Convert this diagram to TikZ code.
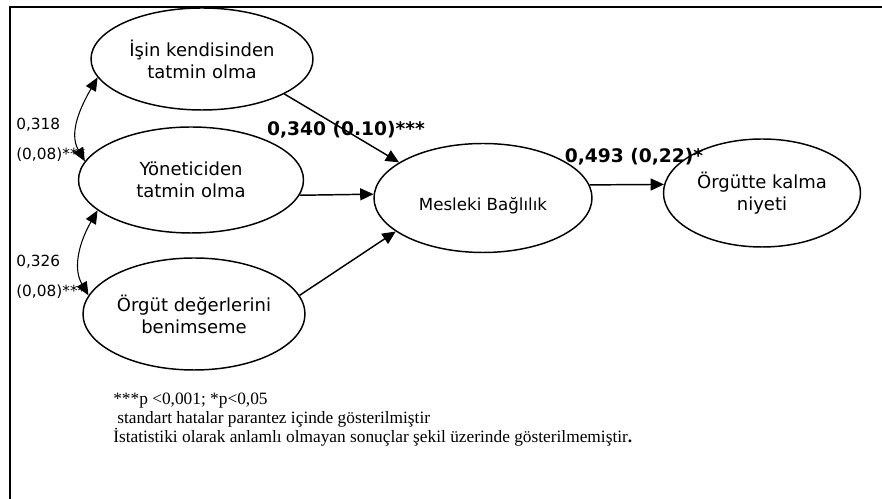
\documentclass[tikz,border=0pt]{standalone}
\usepackage{fontspec}
\setmainfont{Liberation Serif}
\newfontfamily\tahoma{DejaVu Sans}
\usepackage{tikz}
\usetikzlibrary{shapes}
\usetikzlibrary{arrows.meta}

\tikzset{
  factor/.style={draw, ellipse, line width=1.1pt, inner sep=0pt, align=center,
    font=\tahoma\fontsize{13.5}{16.5}\selectfont},
  effect/.style={line width=1.1pt, -{Triangle[length=10pt,width=9pt]}},
  covar/.style={line width=0.8pt, {Triangle[length=10pt,width=8.5pt]}-{Triangle[length=10pt,width=8.5pt]}},
  coef/.style={font=\tahoma\bfseries\fontsize{14}{16}\selectfont, inner sep=0pt},
  corr/.style={font=\tahoma\fontsize{11.5}{13}\selectfont, anchor=west, inner sep=0pt}
}

\begin{document}
\begin{tikzpicture}[x=0.75pt,y=0.75pt]
        \useasboundingbox (0,0) rectangle (882,499);
        \draw[line width=1.5pt] (10,0) -- (10,492) -- (882,492);
        % factors
        \node[factor, minimum width=166.5pt, minimum height=76.5pt] (isin) at (202,440) {İşin kendisinden\\tatmin olma};
        \node[factor, minimum width=168.75pt, minimum height=79.5pt] (yonetici) at (191,319) {Yöneticiden\\tatmin olma};
        \node[factor, minimum width=166.5pt, minimum height=84pt] (orgut) at (194,185) {Örgüt değerlerini\\benimseme};
        \node[factor, minimum width=163.5pt, minimum height=81.75pt,
          label={[font=\tahoma\fontsize{12.5}{15}\selectfont, yshift=-6pt]center:Mesleki Bağlılık}] (mesleki) at (483,301) {};
        \node[factor, minimum width=147.75pt, minimum height=81pt] (kalma) at (762,306) {Örgütte kalma\\niyeti};
        % coefficients
        \node[corr] (r1) at (16,374) {0,318};
        \node[corr] (se1) at (16,344) {(0,08)***};
        \node[corr] (r2) at (16,237) {0,326};
        \node[corr] (se2) at (16,207) {(0,08)***};
        \node[coef] (b1) at (346,369) {0,340 (0.10)***};
        \node[coef] (b2) at (634,342) {0,493 (0,22)*};
        % paths
        \draw[effect] (isin.337) -- (mesleki.157);
        \draw[effect] (yonetici.352) -- (mesleki.178);
        \draw[effect] (orgut.10) -- (mesleki.201);
        \draw[effect] (mesleki.7) -- (kalma.175);
        \draw[covar] (isin.190) to[out=240,in=120] (yonetici.170);
        \draw[covar] (yonetici.198) to[out=240,in=120] (orgut.170);
        % notes
        \node[anchor=north west, align=left, inner sep=0pt, font=\fontsize{13}{14.2}\selectfont] (notes) at (113,106)
          {***p <0,001; *p<0,05\\\hspace*{3pt}standart hatalar parantez içinde gösterilmiştir\\İstatistiki olarak anlamlı olmayan sonuçlar şekil üzerinde gösterilmemiştir\textbf{.}};
      \end{tikzpicture}
\end{document}
